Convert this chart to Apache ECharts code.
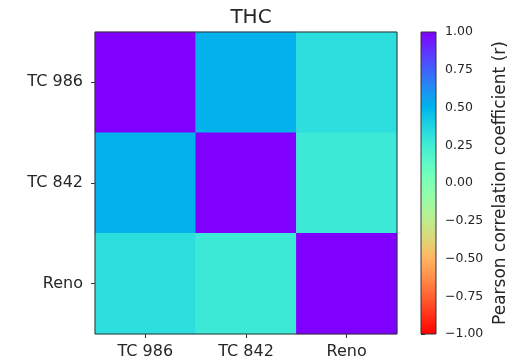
<!DOCTYPE html>
<html>
<head>
<meta charset="utf-8">
<script src="https://cdn.jsdelivr.net/npm/echarts@6/dist/echarts.min.js"></script>
<style>
html,body{margin:0;padding:0;background:#fff;}
#chart{width:528px;height:361px;}
</style>
</head>
<body>
<div id="chart"></div>
<script>
// ---- data ----
const title = 'THC';
const xCategories = ['TC 986', 'TC 842', 'Reno'];
const yCategories = ['TC 986', 'TC 842', 'Reno'];
const rowTC986 = [1.00, 0.51, 0.33];
const rowTC842 = [0.51, 1.00, 0.27];
const rowReno  = [0.33, 0.27, 1.00];
const colorbarTicks = [-1, -0.75, -0.5, -0.25, 0, 0.25, 0.5, 0.75, 1];
const colorbarLabel = 'Pearson correlation coefficient (r)';
const vMin = -1, vMax = 1;

// ---- colormap (matplotlib "rainbow", reversed: -1 red, +1 purple) ----
function clip(v){ return Math.max(0, Math.min(1, v)); }
function rainbow(x){ // x=0 purple, x=1 red
  const r = clip(Math.abs(2*x - 0.5));
  const g = clip(Math.sin(Math.PI*x));
  const b = clip(Math.cos(Math.PI*x/2));
  const h = c => Math.round(c*255).toString(16).padStart(2,'0');
  return '#' + h(r) + h(g) + h(b);
}
const N = 64;
const cmapLowToHigh = []; // from vMin to vMax
for (let i = 0; i <= N; i++) cmapLowToHigh.push(rainbow(1 - i/N));

const rows = [rowTC986, rowTC842, rowReno];
const heatData = [];
rows.forEach((row, yi) => row.forEach((v, xi) => heatData.push([xi, yi, v])));

const font = 'DejaVu Sans';
const txt = '#262626';
const fmt = v => (v < 0 ? '\u2212' : '') + Math.abs(v).toFixed(2);

const chart = echarts.init(document.getElementById('chart'), null, {renderer:'canvas'});
chart.setOption({
  animation: false,
  backgroundColor: '#fff',
  title: {
    text: title, left: 246, top: 3, textAlign: 'center',
    textStyle: {fontFamily: font, fontSize: 20, fontWeight: 'normal', color: txt}
  },
  grid: [
    {left: 95, top: 32, width: 302, height: 302, show: true, borderColor: '#333', borderWidth: 1, backgroundColor: 'transparent', z: 10},
    {left: 421, top: 32, width: 15, height: 302, show: true, borderColor: '#333', borderWidth: 1, backgroundColor: 'transparent', z: 10}
  ],
  xAxis: [
    {gridIndex: 0, type: 'category', data: xCategories, position: 'bottom',
     axisLine: {show: false}, splitLine: {show: false}, splitArea: {show: false},
     axisTick: {show: true, alignWithLabel: true, length: 4, lineStyle: {color: '#333'}},
     axisLabel: {fontFamily: font, fontSize: 16, color: txt, margin: 10}},
    {gridIndex: 1, type: 'value', min: 0, max: 1, show: false}
  ],
  yAxis: [
    {gridIndex: 0, type: 'category', data: yCategories, inverse: true,
     axisLine: {show: false}, splitLine: {show: false}, splitArea: {show: false},
     axisTick: {show: true, alignWithLabel: true, length: 4, lineStyle: {color: '#333'}},
     axisLabel: {fontFamily: font, fontSize: 16, color: txt, margin: 12}},
    {gridIndex: 1, type: 'value', min: vMin, max: vMax, interval: 0.25, position: 'right',
     axisLine: {show: false}, splitLine: {show: false},
     axisTick: {show: true, length: 4, lineStyle: {color: '#333'}},
     axisLabel: {fontFamily: font, fontSize: 12.5, color: txt, margin: 9, formatter: fmt},
     name: colorbarLabel, nameLocation: 'middle', nameRotate: 90, nameGap: 56,
     nameTextStyle: {fontFamily: font, fontSize: 17, color: txt}}
  ],
  visualMap: {
    show: false, type: 'continuous', min: vMin, max: vMax, seriesIndex: 0,
    inRange: {color: cmapLowToHigh}
  },
  series: [
    {type: 'heatmap', xAxisIndex: 0, yAxisIndex: 0, data: heatData,
     itemStyle: {borderWidth: 0}, emphasis: {disabled: true}},
    {type: 'custom', xAxisIndex: 1, yAxisIndex: 1, data: [[0, vMin, 1, vMax]],
     renderItem: function(params, api){
       const p0 = api.coord([api.value(0), api.value(3)]);
       const p1 = api.coord([api.value(2), api.value(1)]);
       const stops = cmapLowToHigh.slice().reverse().map((c, i, a) => ({offset: i/(a.length-1), color: c}));
       return {type: 'rect', shape: {x: p0[0], y: p0[1], width: p1[0]-p0[0], height: p1[1]-p0[1]},
               style: {fill: new echarts.graphic.LinearGradient(0, 0, 0, 1, stops)}};
     }}
  ]
});
</script>
</body>
</html>
